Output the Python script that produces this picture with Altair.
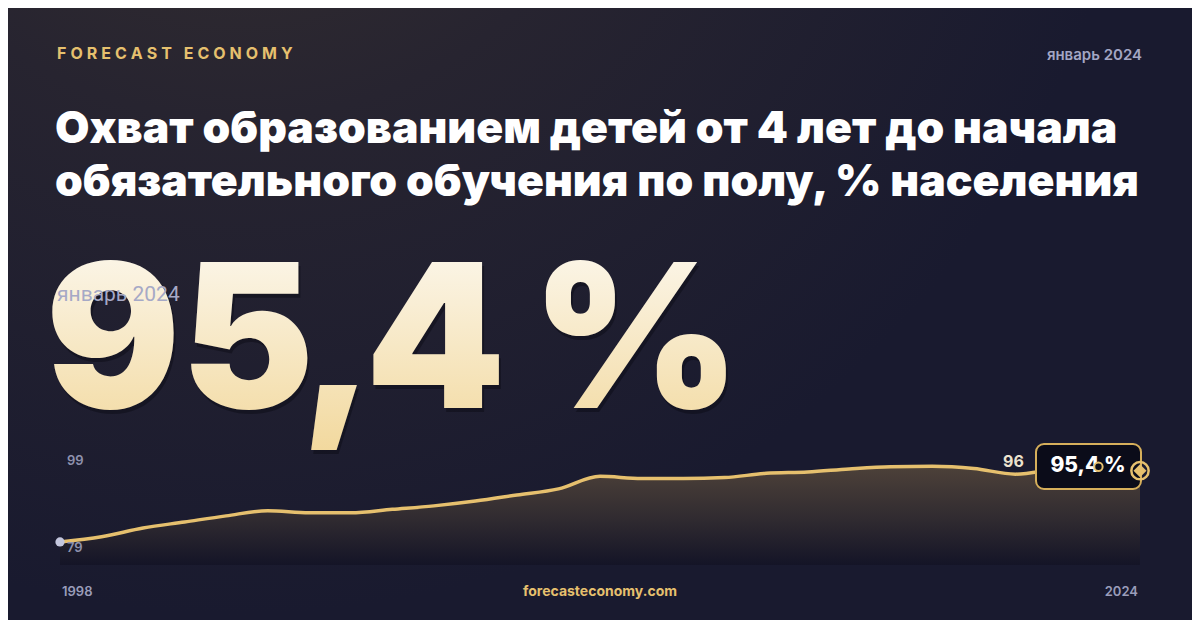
import altair as alt
import pandas as pd

# ---------------- data ----------------
years = list(range(1998, 2025))
values = [79.0, 80.2, 82.2, 83.6, 85.0, 86.2, 85.7, 85.7, 86.5, 87.3, 88.4, 89.8, 91.2,
          94.1, 93.6, 93.6, 93.8, 94.8, 95.1, 95.8, 96.3, 96.4, 95.9, 94.6, 95.7, 96.3, 95.4]
y_ticks = [99, 79]
x_ticks = [1998, 2024]
brand = "FORECAST ECONOMY"
date_label = "январь 2024"
title_lines = ["Охват образованием детей от 4 лет до начала",
               "обязательного обучения по полу, % населения"]
big_value = "95,4 %"
big_chars = ["9", "5", ",", "4", "%"]
footer = "forecasteconomy.com"
prev_label_year = [2023]
prev_label_text = ["96"]

W, H = 1184, 612
GOLD = "#e6c06e"
NAVY = "#191a2f"
Y_BASE = 73.7

series = pd.DataFrame({"year": years, "value": values})
series["base"] = Y_BASE
first = series.iloc[[0]]
last = series.iloc[[-1]]
prev = series[series.year.isin(prev_label_year)].assign(label=prev_label_text)
yt = pd.DataFrame({"value": y_ticks, "label": [str(v) for v in y_ticks], "year": [years[0]] * len(y_ticks)})
xt_left = pd.DataFrame({"year": [x_ticks[0]], "label": [str(x_ticks[0])]})
xt_right = pd.DataFrame({"year": [x_ticks[1]], "label": [str(x_ticks[1])]})

XS = alt.Scale(domain=[1998, 2024], range=[52, 1132], nice=False, zero=False)
YS = alt.Scale(domain=[Y_BASE, 99.0], range=[557, 447], nice=False, zero=False)
X = alt.X("year:Q", scale=XS, axis=None)
Y = alt.Y("value:Q", scale=YS, axis=None)

one = pd.DataFrame({"k": [0]})

def txt(text, x, y, size, color, weight="normal", align="left", font="Inter", baseline="alphabetic", **kw):
    return alt.Chart(one).mark_text(text=text, align=align, baseline=baseline, font=font,
                                    fontSize=size, fontWeight=weight, color=color, **kw).encode(
        x=alt.value(x), y=alt.value(y))

bg = alt.Chart(one).mark_rect(color=NAVY).encode(
    x=alt.value(-10), x2=alt.value(W + 10), y=alt.value(-10), y2=alt.value(H + 10))
glow = alt.Chart(one).mark_rect(
    color=alt.RadialGradient(gradient="radial", x1=0.2, y1=0.0, r1=0.0, x2=0.2, y2=0.0, r2=0.75,
                             stops=[alt.GradientStop(color="#38312f", offset=0),
                                    alt.GradientStop(color="#272430", offset=0.45),
                                    alt.GradientStop(color=NAVY, offset=1)])
).encode(x=alt.value(-10), x2=alt.value(W + 10), y=alt.value(-10), y2=alt.value(H + 10))

spaced_brand = "\u2005".join(brand)
brand_t = txt(spaced_brand, 49, 51, 16, GOLD, weight=700)
date_t = txt(date_label, 1134, 52, 15, "#a3a6c4", weight=600, align="right")
title1 = txt(title_lines[0], 47, 135, 44.5, "#ffffff", weight=900)
title2 = txt(title_lines[1], 47, 188, 44.5, "#ffffff", weight=900)

date_overlay = txt(date_label, 49, 293, 21, "#a6a9c6", weight="normal", font="Roboto")

BIG_GRAD = alt.LinearGradient(gradient="linear", x1=0, x2=0, y1=0, y2=1,
                              stops=[alt.GradientStop(color="#fdfbf6", offset=0),
                                     alt.GradientStop(color="#f2d89c", offset=1)])
char_centers = [105, 239.5, 329.5, 427.5, 628]
big_layers = []
for ch, cx in zip(big_chars, char_centers):
    big_layers.append(txt(ch, cx + 2, 404, 200, "#05050c", weight=900, align="center", opacity=0.35))
for ch, cx in zip(big_chars, char_centers):
    big_layers.append(txt(ch, cx, 400, 200, BIG_GRAD, weight=900, align="center"))

area = alt.Chart(series).mark_area(
    interpolate="monotone",
    color=alt.LinearGradient(gradient="linear", x1=0, x2=0, y1=0, y2=1,
                             stops=[alt.GradientStop(color="#4d4139", offset=0),
                                    alt.GradientStop(color="#2f2a30", offset=0.55),
                                    alt.GradientStop(color="#141427", offset=1)])
).encode(x=X, y=Y, y2=alt.Y2("base:Q"))
line = alt.Chart(series).mark_line(interpolate="monotone", color=GOLD, strokeWidth=3.5).encode(x=X, y=Y)

ylab = alt.Chart(yt).mark_text(align="left", baseline="middle", dx=7, dy=6, font="Inter",
                               fontSize=13, fontWeight=600, color="#8f92ae").encode(x=X, y=Y, text="label:N")
xlab_l = alt.Chart(xt_left).mark_text(align="left", baseline="alphabetic", dx=2, font="Inter", fontSize=13,
                                      fontWeight=600, color="#9a9dba").encode(x=X, y=alt.value(588), text="label:N")
xlab_r = alt.Chart(xt_right).mark_text(align="right", baseline="alphabetic", dx=-2, font="Inter", fontSize=13,
                                       fontWeight=600, color="#9a9dba").encode(x=X, y=alt.value(588), text="label:N")
foot = txt(footer, 592, 588, 14, GOLD, weight=700, align="center")

start_dot = alt.Chart(first).mark_point(filled=True, shape="circle", size=85, color="#c4c7de", opacity=1).encode(x=X, y=Y)

prev_lab = alt.Chart(prev).mark_text(align="center", baseline="middle", dx=-85, dy=-5, font="Inter",
                                     fontSize=16, fontWeight=700, color="#ece3cf").encode(x=X, y=Y, text="label:N")

box = alt.Chart(one).mark_rect(fill="#0b0c19", stroke="#d6af5b", strokeWidth=2, cornerRadius=8).encode(
    x=alt.value(1028), x2=alt.value(1133), y=alt.value(436), y2=alt.value(481))
box_t = txt(big_value, 1080, 464, 21, "#ffffff", weight=800, align="center")

prev_ring = alt.Chart(prev).mark_point(shape="circle", size=70, fill="#0b0c19", stroke=GOLD,
                                       strokeWidth=2, opacity=1, fillOpacity=1).encode(x=X, y=Y)
end_ring = alt.Chart(last).mark_point(shape="circle", size=300, stroke=GOLD, strokeWidth=2.5,
                                      fillOpacity=0.0, opacity=1).encode(x=X, y=Y)
end_dot = alt.Chart(last).mark_point(shape="diamond", filled=True, size=170, color=GOLD, opacity=1).encode(x=X, y=Y)

chart = alt.layer(
    bg, glow, brand_t, date_t, title1, title2, *big_layers, date_overlay,
    area, line, ylab, xlab_l, xlab_r, foot, start_dot, prev_lab, box, box_t, prev_ring, end_ring, end_dot
).properties(
    width=W, height=H, padding=0, autosize=alt.AutoSizeParams(type="none"), background=NAVY
).configure_view(stroke=None)

chart.save("out.html", embed_options={"renderer": "svg", "actions": False})
